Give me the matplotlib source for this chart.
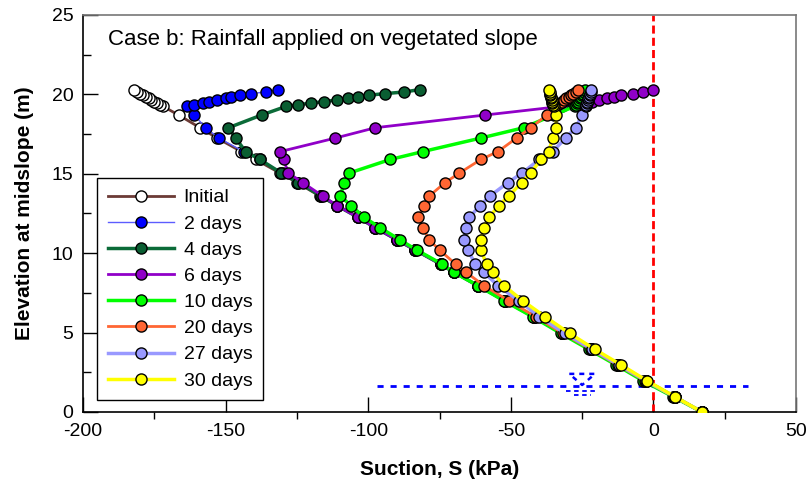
import matplotlib.pyplot as plt
from matplotlib.ticker import MultipleLocator

plt.rcParams['font.family'] = ['Liberation Sans', 'DejaVu Sans']
plt.rcParams['axes.unicode_minus'] = False

# node elevations at midslope (m), shared by all time steps
elev = [0, 0.95, 1.95, 2.95, 3.95, 4.95, 6.0, 7.0, 7.95, 8.8, 9.3, 10.2, 10.85, 11.6,
        12.25, 13.0, 13.6, 14.45, 15.05, 15.9, 16.4, 17.25, 17.9, 18.7,
        19.25, 19.35, 19.45, 19.55, 19.65, 19.75, 19.85, 19.95, 20.05, 20.15, 20.3]

# suction (kPa), one list per time step
s_initial = [17, 7.5, -2.5, -12.3, -22, -32, -42, -52, -61.5, -70, -74.5, -83.5, -90, -97.5,
             -103.5, -111, -117, -125, -131, -139.5, -144.5, -153, -159, -166.5,
             -172, -173, -174, -175, -176, -177, -178, -179, -180, -181, -182]
s_2days = [17, 7.5, -2.5, -12.3, -22, -32, -42, -52, -61.5, -70, -74.5, -83.5, -90, -97.5,
           -103.5, -111, -116.5, -124.5, -130, -138, -143.7, -152.4, -157, -161,
           -163.6, -161, -158, -156, -153, -150, -148, -145, -141, -136, -131.5]
s_4days = [17, 7.5, -2.5, -12.3, -22, -32, -42, -52, -61.5, -70, -74.5, -83.5, -90, -97.5,
           -103.5, -111, -116.5, -124.5, -130.5, -138, -143, -146.5, -149, -137.4,
           -128.7, -124.5, -120, -115.4, -110.8, -107, -103.5, -99.7, -94, -87.4, -82]
s_6days = [17, 7.5, -2.5, -12.3, -22, -32, -42, -52, -61.5, -70, -74.5, -83.5, -90, -97.5,
           -103.5, -111, -116, -123, -128, -129.7, -130.8, -111.5, -97.5, -59,
           -32, -28, -24.5, -21.5, -19, -16.4, -14, -11.2, -7.3, -3.5, 0]
s_10days = [17, 7, -3.5, -13, -22.7, -32.5, -42.4, -52.4, -61.5, -70, -74, -83, -89, -95.8,
            -101.4, -106, -109.8, -108.4, -106.6, -92.3, -80.8, -60.5, -45.5, -35,
            -27.5, -27.2, -26.8, -26.4, -26, -25.7, -25.4, -25, -24.7, -24.4, -24]
s_20days = [17, 7.3, -2.8, -12.5, -22, -31.8, -41.3, -50.7, -59.4, -65.7, -69.3, -75, -78.7, -80.8,
            -82.4, -80.4, -78.6, -73, -68, -60.5, -54.5, -48, -43, -37.4,
            -34.5, -33.7, -32.9, -32.1, -31.3, -30.5, -29.7, -28.9, -28.1, -27.3, -26.6]
s_27days = [17, 7.5, -2.5, -12, -21.5, -31, -40, -47.2, -54.5, -59.5, -62.5, -65, -66.5, -65.7,
            -64.6, -60.8, -57.3, -51, -46, -40, -35.3, -30.8, -27.3, -25,
            -23.8, -23.6, -23.4, -23.2, -23, -22.8, -22.6, -22.4, -22.2, -22, -21.8]
s_30days = [17, 7.7, -2.1, -11.2, -20.6, -29.4, -38, -45.8, -52.4, -56.3, -58.5, -60.5, -60.5, -59.4,
            -57.7, -54.2, -50.7, -46.2, -43, -39.5, -36.7, -35.3, -34, -34.3,
            -35, -35.2, -35.4, -35.5, -35.7, -35.8, -36, -36.1, -36.2, -36.3, -36.5]

labels = ["Initial", "2 days", "4 days", "6 days", "10 days", "20 days", "27 days", "30 days"]
suctions = [s_initial, s_2days, s_4days, s_6days, s_10days, s_20days, s_27days, s_30days]

line_colors = ['#6b3a35', '#5c5cff', '#0b6b38', '#9000c8', '#00ff00', '#ff6633', '#9999ff', '#ffff00']
face_colors = ['white', '#0000ff', '#0a5e32', '#9000c8', '#00ff00', '#ff6633', '#9999ff', '#ffff00']
line_widths = [2, 1, 2.5, 2, 2.5, 2, 2.5, 2.5]

# water table
wt_elev = 1.65
wt_left, wt_right = -97, 33
wt_mark = -25

fig = plt.figure(figsize=(8.07, 4.86), dpi=100)
ax = fig.add_axes([0.1029, 0.1523, 0.8835, 0.8169])

for s, lab, lc, fc, lw in zip(suctions, labels, line_colors, face_colors, line_widths):
    ax.plot(s, elev, '-o', color=lc, lw=lw, mfc=fc, mec='black', ms=8, mew=1,
            label=lab, zorder=3)

# zero suction line
ax.axvline(0, color='#ff0000', lw=2, ls=(0, (2.9, 1.5)), zorder=2)

# water table line and symbol
ax.plot([wt_left, wt_right], [wt_elev, wt_elev], color='#0000ff', lw=2,
        ls=(0, (2.2, 2.5)), zorder=2)
ax.plot([wt_mark - 4.5, wt_mark + 4.5, wt_mark, wt_mark - 4.5],
        [wt_elev + 0.75, wt_elev + 0.75, wt_elev + 0.05, wt_elev + 0.75],
        color='#0000ff', lw=1.8, ls=(0, (2, 2)), zorder=2)
ax.plot([wt_mark - 5.5, wt_mark + 5.5], [wt_elev - 0.33, wt_elev - 0.33], color='#0000ff', lw=1.3,
        ls=(0, (2.5, 2)), zorder=2)
ax.plot([wt_mark - 3, wt_mark + 3], [wt_elev - 0.6, wt_elev - 0.6], color='#0000ff', lw=1.3,
        ls=(0, (2.5, 2)), zorder=2)

ax.set_xlim(-200, 50)
ax.set_ylim(0, 25)
ax.xaxis.set_major_locator(MultipleLocator(50))
ax.xaxis.set_minor_locator(MultipleLocator(25))
ax.yaxis.set_major_locator(MultipleLocator(5))
ax.yaxis.set_minor_locator(MultipleLocator(2.5))

ax.tick_params(axis='x', which='major', direction='in', length=11, width=1, labelsize=14, pad=8)
ax.tick_params(axis='x', which='minor', direction='out', length=5, width=1)
ax.tick_params(axis='y', which='major', direction='in', length=11, width=1, labelsize=14, pad=7)
ax.tick_params(axis='y', which='minor', direction='in', length=6, width=1)

for side in ['top', 'right']:
    ax.spines[side].set_color('#777777')
    ax.spines[side].set_linewidth(1.2)
for side in ['left', 'bottom']:
    ax.spines[side].set_linewidth(1.2)

ax.set_xlabel("Suction, S (kPa)", fontsize=15, fontweight='bold', labelpad=14)
ax.set_ylabel("Elevation at midslope (m)", fontsize=15, fontweight='bold', labelpad=13)

ax.text(0.035, 0.937, "Case b: Rainfall applied on vegetated slope", transform=ax.transAxes,
        fontsize=16, va='center', ha='left')

leg = ax.legend(loc='upper left', bbox_to_anchor=(0.0196, 0.589), borderaxespad=0,
                fontsize=14, handlelength=3.4, handletextpad=0.5, labelspacing=0.44,
                fancybox=False, edgecolor='black', framealpha=1, borderpad=0.55)
leg.get_frame().set_linewidth(1)

fig.savefig('out.png', dpi=100)
